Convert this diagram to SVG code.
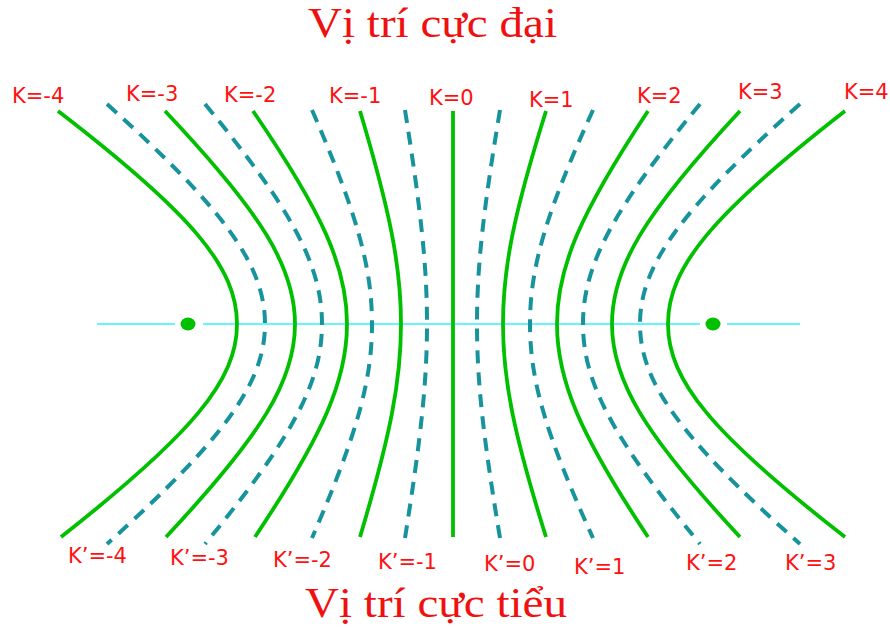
<svg xmlns="http://www.w3.org/2000/svg" width="890" height="628" viewBox="0 0 890 628">
<style>
.max{fill:none;stroke:#00C000;stroke-width:3.8;stroke-linecap:butt}
.min{fill:none;stroke:#16939C;stroke-width:4;stroke-dasharray:13 9}
.axis{stroke:#66F5FF;stroke-width:2;fill:none}
.src{fill:#00C000}
.lbl{font-family:"DejaVu Sans",Verdana,sans-serif;font-size:21px;fill:#FF1010}
.title{font-family:"Liberation Serif","Times New Roman",serif;font-size:42px;fill:#F01010;text-anchor:middle}
</style>
<rect width="890" height="628" fill="#FFFFFF"/>
<text class="title" x="432.5" y="37" textLength="249" lengthAdjust="spacingAndGlyphs">Vị trí cực đại</text>
<text class="title" x="436" y="617" textLength="262" lengthAdjust="spacingAndGlyphs">Vị trí cực tiểu</text>
<g id="axis">
<path class="axis" d="M97 324H175M203 324H700M727 324H800"/>
<ellipse class="src" cx="188" cy="324" rx="7.5" ry="6.5"/>
<ellipse class="src" cx="713" cy="324" rx="7.5" ry="6.5"/>
</g>
<g id="maxima">
<path class="max" d="M58 111C191.8 213.8 237 267.5 237 324C237 380.5 191.8 434.2 61 537"/>
<path class="max" d="M165 111C262.2 213.8 295 267.5 295 324C295 380.5 262.2 434.2 166 537"/>
<path class="max" d="M253 111C323.3 213.8 347 267.5 347 324C347 380.5 323.3 434.2 255 537"/>
<path class="max" d="M360 111C390.7 213.8 401 267.5 401 324C401 380.5 390.7 434.2 360 537"/>
<path class="max" d="M453 111V537"/>
<path class="max" d="M546 111C513.8 213.8 503 267.5 503 324C503 380.5 513.8 434.2 546 537"/>
<path class="max" d="M648 111C580 213.8 557 267.5 557 324C557 380.5 580 434.2 648 537"/>
<path class="max" d="M740 111C644.3 213.8 612 267.5 612 324C612 380.5 644.3 434.2 740 537"/>
<path class="max" d="M845 111C712.7 213.8 668 267.5 668 324C668 380.5 712.7 434.2 845 537"/>
</g>
<g id="minima">
<path class="min" d="M107 104C225.1 210.2 265 265.7 265 324C265 382.3 225.1 437.8 107 544"/>
<path class="min" d="M205 104C292.5 210.2 322 265.7 322 324C322 382.3 292.5 437.8 205 544"/>
<path class="min" d="M312 110C356.9 213.3 372 267.3 372 324C372 380.7 356.9 434.7 312 538"/>
<path class="min" d="M405 110C421.4 213.3 427 267.3 427 324C427 380.7 421.4 434.7 405 538"/>
<path class="min" d="M500 110C482.8 213.3 477 267.3 477 324C477 380.7 482.8 434.7 500 538"/>
<path class="min" d="M593 110C545.9 213.3 530 267.3 530 324C530 380.7 545.9 434.7 593 538"/>
<path class="min" d="M700 104C612.5 210.2 583 265.7 583 324C583 382.3 612.5 437.8 700 544"/>
<path class="min" d="M800 104C680.4 210.2 640 265.7 640 324C640 382.3 680.4 437.8 800 544"/>
</g>
<g id="labels-max">
<text class="lbl" x="12" y="103">K=-4</text>
<text class="lbl" x="126" y="101">K=-3</text>
<text class="lbl" x="224" y="102">K=-2</text>
<text class="lbl" x="329" y="103">K=-1</text>
<text class="lbl" x="429" y="105">K=0</text>
<text class="lbl" x="529" y="107">K=1</text>
<text class="lbl" x="637" y="103">K=2</text>
<text class="lbl" x="738" y="99">K=3</text>
<text class="lbl" x="844" y="99">K=4</text>
</g>
<g id="labels-min">
<text class="lbl" x="68" y="563">K’=-4</text>
<text class="lbl" x="170" y="565">K’=-3</text>
<text class="lbl" x="273" y="567">K’=-2</text>
<text class="lbl" x="378" y="569">K’=-1</text>
<text class="lbl" x="484" y="571">K’=0</text>
<text class="lbl" x="574" y="574">K’=1</text>
<text class="lbl" x="686" y="570">K’=2</text>
<text class="lbl" x="785" y="570">K’=3</text>
</g>
</svg>
